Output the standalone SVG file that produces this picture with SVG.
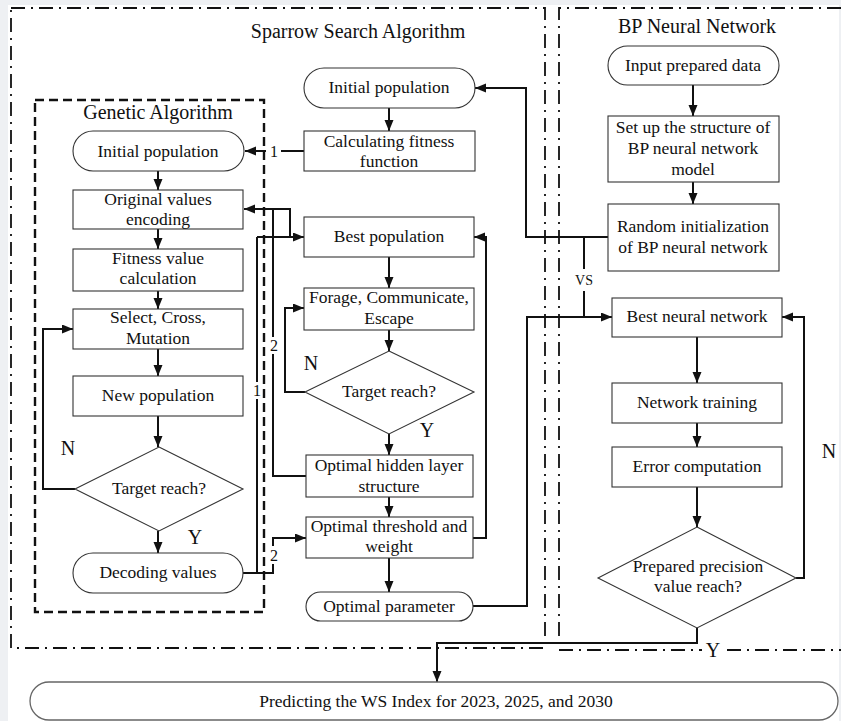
<svg xmlns="http://www.w3.org/2000/svg" width="841" height="721" viewBox="0 0 841 721">
  <style>
    text { font-family: "Liberation Serif", "Times New Roman", serif; fill: #111; text-anchor: middle; }
    .t { font-size: 17.5px; }
    .title { font-size: 20px; }
    .yn { font-size: 20px; }
    .num { font-size: 16px; }
    .vs { font-size: 14px; }
    .box { fill: #fff; stroke: #333; stroke-width: 1.1; }
    .frame { fill: none; stroke: #111; stroke-width: 1.8; stroke-dasharray: 14 6 2 6; }
    .ga { fill: none; stroke: #111; stroke-width: 2.4; stroke-dasharray: 9 5; }
    .c { fill: none; stroke: #111; stroke-width: 2; }
    .a { fill: none; stroke: #111; stroke-width: 2; marker-end: url(#arr); }
  </style>
  <defs>
    <marker id="arr" markerUnits="userSpaceOnUse" markerWidth="12" markerHeight="10" refX="11" refY="4.5" orient="auto">
      <path d="M0,0 L11,4.5 L0,9 Z" fill="#111"/>
    </marker>
  </defs>

  <!-- page -->
  <rect x="0" y="0" width="841" height="721" fill="#eef0f3"/>
  <rect x="8" y="5" width="831" height="716" fill="#fff"/>

  <!-- region frames -->
  <g id="frames">
    <rect class="frame" x="11" y="8" width="534" height="640"/>
    <path class="frame" d="M841,8 H559 V650 H841"/>
    <rect class="ga" x="35" y="100" width="229" height="512"/>
    <text class="title" x="358" y="38">Sparrow Search Algorithm</text>
    <text class="title" x="697" y="33">BP Neural Network</text>
    <text class="title" x="158" y="119">Genetic Algorithm</text>
  </g>

  <!-- connectors -->
  <g id="connectors">
    <!-- genetic algorithm chain -->
    <path class="a" d="M158,171 V190"/>
    <path class="a" d="M158,229 V249"/>
    <path class="a" d="M158,291 V309"/>
    <path class="a" d="M158,349 V376"/>
    <path class="a" d="M158,416 V447"/>
    <path class="a" d="M158,531 V553"/>
    <path class="a" d="M75,489 H43 V329 H73"/>

    <!-- sparrow search chain -->
    <path class="a" d="M389,108 V131"/>
    <path class="a" d="M389,257 V288"/>
    <path class="a" d="M389,330 V351"/>
    <path class="a" d="M389,434 V455"/>
    <path class="a" d="M389,497 V517"/>
    <path class="a" d="M389,558 V592"/>
    <path class="a" d="M305,392 H285 V308 H304"/>
    <path class="a" d="M473,538 H486 V237 H474"/>

    <!-- links between the two algorithms -->
    <path class="c" d="M304,151 H281"/>
    <path class="a" d="M266,151 H245"/>
    <path class="c" d="M306,476 H273 V354"/>
    <path class="c" d="M273,337 V209"/>
    <path class="a" d="M290,237 V209 H244"/>
    <path class="a" d="M257,237 H304"/>
    <path class="c" d="M243,573 H273 V564"/>
    <path class="a" d="M273,546 V538 H306"/>
    <path class="c" d="M257,573 V399"/>
    <path class="c" d="M257,382 V237"/>

    <!-- links to the BP network -->
    <path class="a" d="M608,237 H526 V88 H475"/>
    <path class="c" d="M584,237 V269"/>
    <path class="c" d="M584,291 V317"/>
    <path class="a" d="M473,606 H527 V317 H612"/>

    <!-- BP network chain -->
    <path class="a" d="M693,85 V116"/>
    <path class="a" d="M693,182 V204"/>
    <path class="a" d="M697,337 V383"/>
    <path class="a" d="M697,423 V447"/>
    <path class="a" d="M697,487 V527"/>
    <path class="a" d="M796,578 H804 V317 H782"/>
    <path class="a" d="M697,628 V643 H437 V682"/>

    <!-- branch labels -->
    <text class="num" x="274" y="157">1</text>
    <text class="num" x="274" y="351">2</text>
    <text class="num" x="257" y="396">1</text>
    <text class="num" x="274" y="561">2</text>
    <text class="vs" x="584" y="285">VS</text>
    <text class="yn" x="68" y="455">N</text>
    <text class="yn" x="195" y="544">Y</text>
    <text class="yn" x="311" y="370">N</text>
    <text class="yn" x="427" y="437">Y</text>
    <text class="yn" x="829" y="458">N</text>
    <rect x="702" y="644" width="22" height="14" fill="#fff"/>
    <text class="yn" x="713" y="657">Y</text>
  </g>

  <!-- genetic algorithm nodes -->
  <g id="ga-init">
    <rect class="box" x="73" y="131" width="171" height="40" rx="20"/>
    <text class="t" x="158" y="157">Initial population</text>
  </g>
  <g id="ga-encode">
    <rect class="box" x="73" y="190" width="170" height="39"/>
    <text class="t" x="158" y="205">Original values</text>
    <text class="t" x="158" y="225">encoding</text>
  </g>
  <g id="ga-fitness">
    <rect class="box" x="73" y="249" width="170" height="42"/>
    <text class="t" x="158" y="264">Fitness value</text>
    <text class="t" x="158" y="284">calculation</text>
  </g>
  <g id="ga-select">
    <rect class="box" x="73" y="309" width="170" height="40"/>
    <text class="t" x="158" y="323">Select, Cross,</text>
    <text class="t" x="158" y="344">Mutation</text>
  </g>
  <g id="ga-newpop">
    <rect class="box" x="73" y="376" width="170" height="40"/>
    <text class="t" x="158" y="401">New population</text>
  </g>
  <g id="ga-target">
    <polygon class="box" points="159,447 243,489 159,531 75,489"/>
    <text class="t" x="159" y="494">Target reach?</text>
  </g>
  <g id="ga-decode">
    <rect class="box" x="73" y="553" width="170" height="40" rx="20"/>
    <text class="t" x="158" y="578">Decoding values</text>
  </g>

  <!-- sparrow search nodes -->
  <g id="ssa-init">
    <rect class="box" x="304" y="68" width="171" height="40" rx="20"/>
    <text class="t" x="389" y="93">Initial population</text>
  </g>
  <g id="ssa-fitness">
    <rect class="box" x="304" y="131" width="171" height="40"/>
    <text class="t" x="389" y="147">Calculating fitness</text>
    <text class="t" x="389" y="167">function</text>
  </g>
  <g id="ssa-best">
    <rect class="box" x="304" y="217" width="170" height="40"/>
    <text class="t" x="389" y="242">Best population</text>
  </g>
  <g id="ssa-forage">
    <rect class="box" x="304" y="288" width="170" height="42"/>
    <text class="t" x="389" y="303">Forage, Communicate,</text>
    <text class="t" x="389" y="324">Escape</text>
  </g>
  <g id="ssa-target">
    <polygon class="box" points="389,351 474,392 389,434 305,392"/>
    <text class="t" x="389" y="397">Target reach?</text>
  </g>
  <g id="ssa-hidden">
    <rect class="box" x="306" y="455" width="167" height="42"/>
    <text class="t" x="389" y="471">Optimal hidden layer</text>
    <text class="t" x="389" y="492">structure</text>
  </g>
  <g id="ssa-threshold">
    <rect class="box" x="306" y="517" width="167" height="41"/>
    <text class="t" x="389" y="532">Optimal threshold and</text>
    <text class="t" x="389" y="552">weight</text>
  </g>
  <g id="ssa-param">
    <rect class="box" x="306" y="592" width="167" height="29" rx="14.5"/>
    <text class="t" x="389" y="612">Optimal parameter</text>
  </g>

  <!-- BP network nodes -->
  <g id="bp-input">
    <rect class="box" x="608" y="46" width="171" height="39" rx="19.5"/>
    <text class="t" x="693" y="71">Input prepared data</text>
  </g>
  <g id="bp-structure">
    <rect class="box" x="608" y="116" width="171" height="66"/>
    <text class="t" x="693" y="133">Set up the structure of</text>
    <text class="t" x="693" y="154">BP neural network</text>
    <text class="t" x="693" y="175">model</text>
  </g>
  <g id="bp-random">
    <rect class="box" x="608" y="204" width="171" height="67"/>
    <text class="t" x="693" y="232">Random initialization</text>
    <text class="t" x="693" y="253">of BP neural network</text>
  </g>
  <g id="bp-best">
    <rect class="box" x="612" y="298" width="170" height="39"/>
    <text class="t" x="697" y="322">Best neural network</text>
  </g>
  <g id="bp-training">
    <rect class="box" x="612" y="383" width="170" height="40"/>
    <text class="t" x="697" y="408">Network training</text>
  </g>
  <g id="bp-error">
    <rect class="box" x="612" y="447" width="170" height="40"/>
    <text class="t" x="697" y="472">Error computation</text>
  </g>
  <g id="bp-precision">
    <polygon class="box" points="697,527 796,578 697,628 598,578"/>
    <text class="t" x="698" y="572">Prepared precision</text>
    <text class="t" x="698" y="592">value reach?</text>
  </g>

  <!-- final output -->
  <g id="predict">
    <rect x="30" y="682" width="808" height="38" rx="19" fill="#fff" stroke="#666" stroke-width="1.3"/>
    <text class="t" x="436" y="707">Predicting the WS Index for 2023, 2025, and 2030</text>
  </g>
</svg>
